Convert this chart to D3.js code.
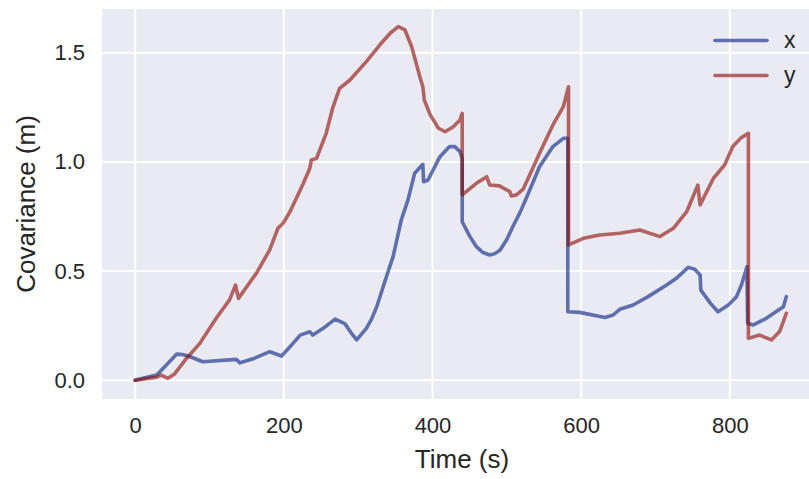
<!DOCTYPE html>
<html>
<head>
<meta charset="utf-8">
<script src="https://cdn.jsdelivr.net/npm/d3@7"></script>
<style>
    body { margin: 0; background: #fff; }
    text { font-family: "Liberation Sans", Arial, sans-serif; fill: #262626; }
</style>
</head>
<body>
<div id="chart"></div>
<script>
// series labels
const seriesNames = ["x", "y"];

// x series (time in s, covariance in m)
const timeX = [0, 20, 29, 42, 56, 64, 74, 91, 136, 141, 160, 181, 197, 210, 222, 235, 239, 253, 269, 282, 290, 298, 311, 318, 325, 338, 347, 358, 367, 376, 387, 388,
    394, 410, 423, 430, 437, 440, 440, 441, 450, 459, 468, 477, 484, 491, 500, 508, 518, 527, 544, 562, 576, 582, 582, 598, 632, 643, 652, 670, 690, 715, 728,
    744, 753, 760, 761, 774, 784, 798, 809, 816, 823, 824, 831, 849, 867, 872, 876];
const covX = [0, 0.017, 0.024, 0.07, 0.12, 0.118, 0.108, 0.085, 0.096, 0.08, 0.1, 0.131, 0.111, 0.16, 0.207, 0.222, 0.207, 0.238, 0.28, 0.26, 0.22, 0.185, 0.238, 0.28, 0.337, 0.474, 0.566, 0.734, 0.826, 0.948, 0.989, 0.909,
    0.917, 1.024, 1.07, 1.07, 1.047, 1.016, 0.725, 0.719, 0.66, 0.612, 0.585, 0.574, 0.58, 0.597, 0.645, 0.703, 0.77, 0.84, 0.978, 1.07, 1.108, 1.108, 0.314, 0.311, 0.288, 0.299, 0.325, 0.345, 0.383, 0.436, 0.467,
    0.517, 0.508, 0.482, 0.413, 0.352, 0.314, 0.345, 0.383, 0.44, 0.52, 0.261, 0.253, 0.284, 0.325, 0.337, 0.383];

// y series
const timeY = [0, 29, 35, 44, 53, 60, 69, 87, 109, 127, 135, 139, 163, 181, 192, 199, 208, 217, 226, 235, 237, 244, 257, 266, 275, 289, 311, 329, 343, 354,
    363, 372, 383, 387, 389, 397, 408, 417, 428, 437, 440, 440, 459, 473, 477, 490, 504, 506, 513, 522, 544, 562, 576, 583, 583, 603,
    625, 652, 679, 706, 724, 742, 757, 760, 778, 793, 804, 815, 825, 825, 840, 856, 867, 876];
const covY = [0, 0.014, 0.024, 0.009, 0.029, 0.06, 0.1, 0.169, 0.284, 0.368, 0.436, 0.375, 0.49, 0.597, 0.696, 0.719, 0.77, 0.835, 0.9, 0.971, 1.009, 1.016, 1.131, 1.25, 1.337, 1.375, 1.459, 1.535, 1.589, 1.619,
    1.604, 1.527, 1.39, 1.344, 1.283, 1.215, 1.154, 1.138, 1.161, 1.192, 1.222, 0.849, 0.902, 0.932, 0.894, 0.89, 0.864, 0.844, 0.849, 0.875, 1.039, 1.169, 1.253, 1.344, 0.62, 0.65,
    0.665, 0.673, 0.688, 0.658, 0.696, 0.772, 0.894, 0.803, 0.925, 0.986, 1.07, 1.11, 1.131, 0.192, 0.207, 0.185, 0.223, 0.307];

// ticks
const xTicks = [0, 200, 400, 600, 800];
const yTicks = [0.0, 0.5, 1.0, 1.5];

class CovarianceVis {
    constructor(_parentElement) {
        this.parentElement = _parentElement;
        this.data = [
            { name: seriesNames[0], color: "#001C7F", values: timeX.map((t, i) => ({ t: t, v: covX[i] })) },
            { name: seriesNames[1], color: "#8C0900", values: timeY.map((t, i) => ({ t: t, v: covY[i] })) }
        ];
        this.initVis();
    }

    initVis() {
        let vis = this;

        vis.margin = { top: 9, right: -13, bottom: 80, left: 102 };
        vis.width = 809 - vis.margin.left - vis.margin.right;
        vis.height = 479 - vis.margin.top - vis.margin.bottom;

        vis.root = d3.select("#" + vis.parentElement).append("svg")
            .attr("width", 809)
            .attr("height", 479);

        vis.svg = vis.root.append("g")
            .attr("transform", "translate(" + vis.margin.left + "," + vis.margin.top + ")");

        // background
        vis.svg.append("rect")
            .attr("width", vis.width)
            .attr("height", vis.height)
            .attr("fill", "#EAEAF2");

        // scales
        vis.x = d3.scaleLinear()
            .domain([-44.6, 924])
            .range([0, vis.width]);

        vis.y = d3.scaleLinear()
            .domain([-0.0856, 1.700])
            .range([vis.height, 0]);

        // grid
        vis.svg.selectAll(".grid-x")
            .data(xTicks)
            .enter().append("line")
            .attr("class", "grid-x")
            .attr("x1", d => vis.x(d))
            .attr("x2", d => vis.x(d))
            .attr("y1", 0)
            .attr("y2", vis.height)
            .attr("stroke", "white")
            .attr("stroke-width", 2);

        vis.svg.selectAll(".grid-y")
            .data(yTicks)
            .enter().append("line")
            .attr("class", "grid-y")
            .attr("x1", 0)
            .attr("x2", vis.width)
            .attr("y1", d => vis.y(d))
            .attr("y2", d => vis.y(d))
            .attr("stroke", "white")
            .attr("stroke-width", 2);

        // axes
        vis.xAxis = d3.axisBottom(vis.x)
            .tickValues(xTicks)
            .tickSize(0)
            .tickPadding(18)
            .tickFormat(d3.format("d"));

        vis.yAxis = d3.axisLeft(vis.y)
            .tickValues(yTicks)
            .tickSize(0)
            .tickPadding(17)
            .tickFormat(d3.format(".1f"));

        vis.svg.append("g")
            .attr("class", "x-axis")
            .attr("transform", "translate(0," + vis.height + ")")
            .call(vis.xAxis);

        vis.svg.append("g")
            .attr("class", "y-axis")
            .call(vis.yAxis);

        vis.svg.selectAll(".x-axis text, .y-axis text")
            .style("font-size", "22px")
            .style("font-family", null)
            .attr("fill", "#262626");
        vis.svg.selectAll(".domain").remove();

        // axis titles
        vis.root.append("text")
            .attr("x", vis.margin.left + vis.width / 2)
            .attr("y", 468)
            .attr("text-anchor", "middle")
            .style("font-size", "26px")
            .text("Time (s)");

        vis.root.append("text")
            .attr("transform", "translate(35," + (vis.margin.top + vis.height / 2) + ") rotate(-90)")
            .attr("text-anchor", "middle")
            .style("font-size", "26px")
            .text("Covariance (m)");

        vis.line = d3.line()
            .x(d => vis.x(d.t))
            .y(d => vis.y(d.v));

        vis.wrangleData();
    }

    wrangleData() {
        let vis = this;
        vis.updateVis();
    }

    updateVis() {
        let vis = this;

        vis.svg.selectAll(".series")
            .data(vis.data)
            .enter().append("path")
            .attr("class", "series")
            .attr("d", d => vis.line(d.values))
            .attr("fill", "none")
            .attr("stroke", d => d.color)
            .attr("stroke-opacity", 0.6)
            .attr("stroke-width", 3.6)
            .attr("stroke-linejoin", "round")
            .attr("stroke-linecap", "round");

        // legend
        let legend = vis.root.append("g")
            .attr("transform", "translate(715,40.5)");

        let items = legend.selectAll(".legend-item")
            .data(vis.data)
            .enter().append("g")
            .attr("class", "legend-item")
            .attr("transform", (d, i) => "translate(0," + (i * 35) + ")");

        items.append("line")
            .attr("x1", 0)
            .attr("x2", 52)
            .attr("stroke", d => d.color)
            .attr("stroke-opacity", 0.6)
            .attr("stroke-width", 3.6)
            .attr("stroke-linecap", "round");

        items.append("text")
            .attr("x", 69)
            .attr("y", 7)
            .style("font-size", "23px")
            .text(d => d.name);
    }
}

new CovarianceVis("chart");
</script>
</body>
</html>
